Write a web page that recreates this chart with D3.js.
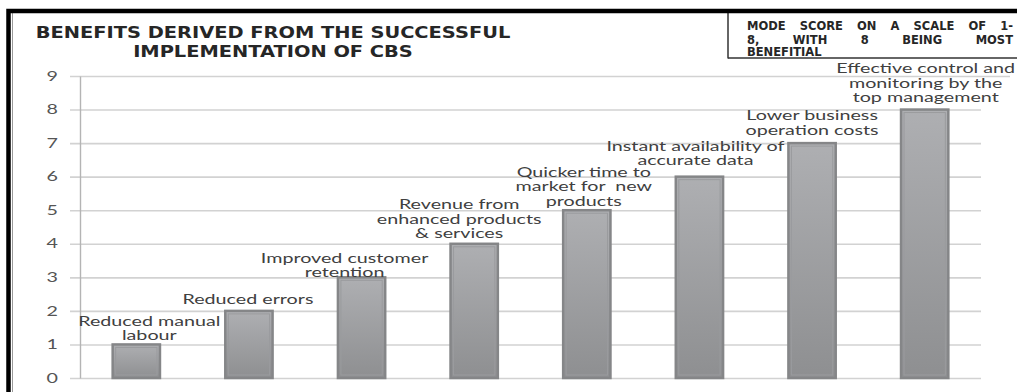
<!DOCTYPE html>
<html>
<head>
<meta charset="utf-8">
<script src="https://cdn.jsdelivr.net/npm/d3@7"></script>
<style>
  body { margin: 0; background: #fff; }
  svg { display: block; }
</style>
</head>
<body>
<svg width="1017" height="392"></svg>
<script>
// chart values
const categories = [
  "Reduced manual labour",
  "Reduced errors",
  "Improved customer retention",
  "Revenue from enhanced products & services",
  "Quicker time to market for new products",
  "Instant availability of accurate data",
  "Lower business operation costs",
  "Effective control and monitoring by the top management"
];
const labelLines = [
  ["Reduced manual", "labour"],
  ["Reduced errors"],
  ["Improved customer", "retention"],
  ["Revenue from", "enhanced products", "& services"],
  ["Quicker time to", "market for  new", "products"],
  ["Instant availability of", "accurate data"],
  ["Lower business", "operation costs"],
  ["Effective control and", "monitoring by the", "top management"]
];
const scores = [1, 2, 3, 4, 5, 6, 7, 8];
const yTicks = [0, 1, 2, 3, 4, 5, 6, 7, 8, 9];
const titleLines = ["BENEFITS DERIVED FROM THE SUCCESSFUL", "IMPLEMENTATION OF CBS"];
const noteLines = [
  ["MODE", "SCORE", "ON", "A", "SCALE", "OF", "1-"],
  ["8,", "WITH", "8", "BEING", "MOST"],
  ["BENEFITIAL"]
];

// layout (the source picture is stretched sideways, so text is too)
const labelNudge = [[13, 3], [-1, 0], [-17, 7], [-15, 2], [-3, 3], [-4, -4], [0, -1], [1, 0]];
const labelFont = "Lato, 'Open Sans', sans-serif";
const titleFont = "'DejaVu Sans', Verdana, sans-serif";

let svg = d3.select("svg"),
    width = +svg.attr("width"),
    height = +svg.attr("height");

const plot = { left: 80, right: 981, top: 76, bottom: 378 };

// measure natural width of a string to get the horizontal stretch
const measure = (str, font, size, weight) => {
  let t = svg.append("text")
    .style("font-family", font).style("font-size", size + "px")
    .style("font-weight", weight || "normal")
    .text(str);
  let w = t.node().getComputedTextLength();
  t.remove();
  return w;
};

const labelSize = 13;
const labelStretch = 131 / measure("Reduced errors", labelFont, labelSize);
const titleStretch = 475 / measure(titleLines[0], titleFont, 15.5, "bold");

let x = d3.scaleBand()
    .domain(categories)
    .range([plot.left, plot.right])
    .paddingInner(0.58)
    .paddingOuter(0.29);

let y = d3.scaleLinear()
    .domain([0, 9])
    .range([plot.bottom, plot.top]);

// bar gradient
let defs = svg.append("defs");
let grad = defs.append("linearGradient")
    .attr("id", "barFill")
    .attr("x1", 0).attr("y1", 0).attr("x2", 0).attr("y2", 1);
grad.append("stop").attr("offset", "0%").attr("stop-color", "#aeafb2");
grad.append("stop").attr("offset", "100%").attr("stop-color", "#8e8f91");

// gridlines
let gGrid = svg.append("g")
    .attr("class", "grid")
    .attr("transform", `translate(${plot.left},0)`)
    .call(d3.axisLeft(y).tickValues(yTicks).tickSize(-(plot.right - plot.left)).tickFormat(""));
gGrid.select(".domain").remove();
gGrid.selectAll(".tick line")
    .attr("stroke", "#d2d2d2")
    .attr("stroke-width", 1.6)
    .attr("x1", -10)
    .attr("x2", d => d === 9 ? 930 : plot.right - plot.left);

// y axis
let gY = svg.append("g")
    .attr("class", "axis axis--y")
    .attr("transform", `translate(${plot.left},0)`)
    .call(d3.axisLeft(y).tickValues(yTicks).tickSize(0).tickPadding(0));
gY.select(".domain").attr("stroke", "#b4b4b4").attr("stroke-width", 1.4);
gY.selectAll(".tick text")
    .attr("x", -22 / labelStretch)
    .attr("transform", `scale(${labelStretch},1)`)
    .style("font-family", labelFont)
    .style("font-size", "13px")
    .attr("fill", "#555");

// bars
let bar = svg.append("g")
    .selectAll("g")
    .data(categories)
    .enter().append("g")
    .attr("class", "bar");

bar.append("rect")
    .attr("x", d => x(d))
    .attr("y", (d, i) => y(scores[i]))
    .attr("width", x.bandwidth())
    .attr("height", (d, i) => y(0) - y(scores[i]))
    .attr("fill", "url(#barFill)")
    .attr("stroke", "#858688")
    .attr("stroke-width", 2.5);

bar.append("rect")
    .attr("x", d => x(d) + 3)
    .attr("y", (d, i) => y(scores[i]) + 3)
    .attr("width", x.bandwidth() - 6)
    .attr("height", (d, i) => y(0) - y(scores[i]) - 6)
    .attr("fill", "none")
    .attr("stroke", "#9a9b9e")
    .attr("stroke-width", 1);

// data labels
const lineH = 14.5;
bar.append("text")
    .attr("transform", (d, i) => {
      let cx = x(d) + x.bandwidth() / 2 + labelNudge[i][0];
      return `translate(${cx},0) scale(${labelStretch},1)`;
    })
    .attr("text-anchor", "middle")
    .style("font-family", labelFont)
    .style("font-size", labelSize + "px")
    .attr("fill", "#404040")
    .style("white-space", "pre")
    .each(function(d, i) {
      let lines = labelLines[i];
      let lastY = y(scores[i]) - 12 + labelNudge[i][1];
      d3.select(this).selectAll("tspan")
        .data(lines)
        .enter().append("tspan")
        .attr("x", 0)
        .attr("y", (l, k) => lastY - (lines.length - 1 - k) * lineH)
        .attr("dy", "0.36em")
        .text(l => l);
    });

// title
svg.append("g")
    .selectAll("text")
    .data(titleLines)
    .enter().append("text")
    .attr("transform", (d, i) => `translate(273,${38 + i * 19}) scale(${titleStretch},1)`)
    .attr("text-anchor", "middle")
    .style("font-family", titleFont)
    .style("font-size", "15.5px")
    .style("font-weight", "bold")
    .attr("fill", "#262626")
    .text(d => d);

// note box text, justified
const noteX0 = 747, noteX1 = 1013, noteSize = 11.5;
const noteBase = [29.5, 44, 56];
noteLines.forEach((words, li) => {
  let widths = words.map(w => measure(w, titleFont, noteSize, "bold"));
  let total = d3.sum(widths);
  let justify = li < noteLines.length - 1 && words.length > 1;
  let gap = justify ? (noteX1 - noteX0 - total) / (words.length - 1) : measure(" ", titleFont, noteSize, "bold");
  let cx = noteX0;
  words.forEach((w, k) => {
    svg.append("text")
      .attr("x", cx)
      .attr("y", noteBase[li])
      .style("font-family", titleFont)
      .style("font-size", noteSize + "px")
      .style("font-weight", "bold")
      .attr("fill", "#262626")
      .text(w);
    cx += widths[k] + gap;
  });
});

// frame
svg.append("line")
    .attr("x1", 728).attr("y1", 12).attr("x2", 728).attr("y2", 58.5)
    .attr("stroke", "#333").attr("stroke-width", 1.5);
svg.append("line")
    .attr("x1", 728).attr("y1", 58).attr("x2", width).attr("y2", 58)
    .attr("stroke", "#333").attr("stroke-width", 1.5);
svg.append("line")
    .attr("x1", 12.5).attr("y1", 13).attr("x2", 12.5).attr("y2", height)
    .attr("stroke", "#9a9a9a").attr("stroke-width", 1);
svg.append("path")
    .attr("d", `M8.5,${height} L8.5,11 L${width},11`)
    .attr("fill", "none")
    .attr("stroke", "#000")
    .attr("stroke-width", 4.5);
</script>
</body>
</html>
